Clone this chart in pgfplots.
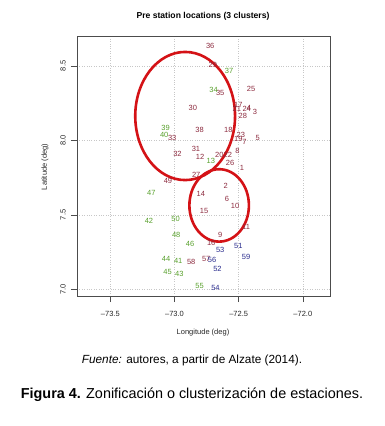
\documentclass[border=0pt]{standalone}
\usepackage{pgfplots}
\pgfplotsset{compat=1.18}
\usepackage{pgfplotstable}
\usepackage{fontspec}
\setmainfont{Liberation Sans}
\definecolor{cred}{RGB}{140,42,62}
\definecolor{cgreen}{RGB}{88,160,44}
\definecolor{cblue}{RGB}{40,42,140}
\definecolor{ellred}{RGB}{212,18,22}
\pgfplotstableread{
x y l
-72.722 8.636 36
-72.701 8.507 29
-72.644 8.321 35
-72.403 8.346 25
-72.857 8.216 30
-72.502 8.238 17
-72.514 8.211 21
-72.437 8.211 24
-72.419 8.216 4
-72.468 8.166 28
-72.372 8.189 3
-72.580 8.070 18
-72.483 8.037 23
-72.502 8.008 19
-72.455 7.992 7
-72.351 8.015 5
-72.510 7.930 8
-72.805 8.070 38
-73.018 8.019 33
-72.833 7.945 31
-72.800 7.887 12
-72.977 7.907 32
-72.650 7.903 20
-72.584 7.903 22
-72.567 7.847 26
-72.475 7.813 1
-72.831 7.768 27
-73.051 7.728 49
-72.600 7.697 2
-72.795 7.641 14
-72.592 7.607 6
-72.528 7.562 10
-72.769 7.527 15
-72.442 7.417 11
-72.644 7.368 9
-72.714 7.310 16
-72.870 7.185 58
-72.753 7.203 57
}\redtab
\pgfplotstableread{
x y l
-72.574 8.464 37
-72.696 8.339 34
-73.070 8.084 39
-73.080 8.037 40
-72.717 7.862 13
-73.181 7.646 47
-73.199 7.460 42
-72.992 7.471 50
-72.987 7.364 48
-72.878 7.305 46
-73.065 7.207 44
-72.971 7.191 41
-73.054 7.117 45
-72.963 7.104 43
-72.805 7.023 55
}\greentab
\pgfplotstableread{
x y l
-72.644 7.265 53
-72.502 7.294 51
-72.442 7.220 59
-72.707 7.196 56
-72.665 7.136 52
-72.681 7.012 54
}\bluetab
\begin{document}
\begin{tikzpicture}[x=1pt,y=1pt]
\path[use as bounding box] (0,0) rectangle (384,426);
\begin{axis}[
  at={(77pt,130pt)}, anchor=south west,
  scale only axis, width=253pt, height=260pt,
  xmin=-73.76, xmax=-71.788, ymin=6.956, ymax=8.701,
  xtick={-73.5,-73,-72.5,-72},
  xticklabels={–73.5,–73.0,–72.5,–72.0},
  ytick={7,7.5,8,8.5},
  yticklabels={7.0,7.5,8.0,8.5},
  xtick pos=bottom, ytick pos=left,
  tick align=outside, major tick length=6pt,
  tick style={black!70, line width=0.5pt},
  axis line style={black!70, line width=0.7pt},
  grid=major, major grid style={dotted, black!22, line width=0.5pt},
  ticklabel style={font=\fontsize{7.5}{8}\selectfont, text=black!85},
  xticklabel style={anchor=center, yshift=-12pt},
  yticklabel style={rotate=90, anchor=center, yshift=8pt},
  nodes near coords, point meta=explicit symbolic,
  nodes near coords align={center},
  clip=false,
]
\addplot[only marks, mark=none, every node near coord/.append style={text=cred, font=\fontsize{7.5}{8}\selectfont, inner sep=0pt}] table[x=x,y=y,meta=l] {\redtab};
\addplot[only marks, mark=none, every node near coord/.append style={text=cgreen, font=\fontsize{7.5}{8}\selectfont, inner sep=0pt}] table[x=x,y=y,meta=l] {\greentab};
\addplot[only marks, mark=none, every node near coord/.append style={text=cblue, font=\fontsize{7.5}{8}\selectfont, inner sep=0pt}] table[x=x,y=y,meta=l] {\bluetab};
\draw[ellred, line width=2.6pt] (axis cs:-72.917,8.164) ellipse [x radius=0.389, y radius=0.43];
\draw[ellred, line width=2.6pt] (axis cs:-72.652,7.564) ellipse [x radius=0.232, y radius=0.243];
\end{axis}
\node[font=\bfseries\fontsize{8.6}{10}\selectfont] at (203,410) {Pre station locations (3 clusters)};
\node[font=\fontsize{7.5}{8}\selectfont, text=black!85] at (203,93) {Longitude (deg)};
\node[font=\fontsize{7.5}{8}\selectfont, text=black!85, rotate=90] at (45,259) {Latitude (deg)};
\node[font=\fontsize{11.8}{13}\selectfont] at (192,66) {\textit{Fuente:} autores, a partir de Alzate (2014).};
\node[font=\fontsize{14.4}{16}\selectfont] at (192,31) {\textbf{Figura 4.} Zonificación o clusterización de estaciones.};
\end{tikzpicture}
\end{document}
